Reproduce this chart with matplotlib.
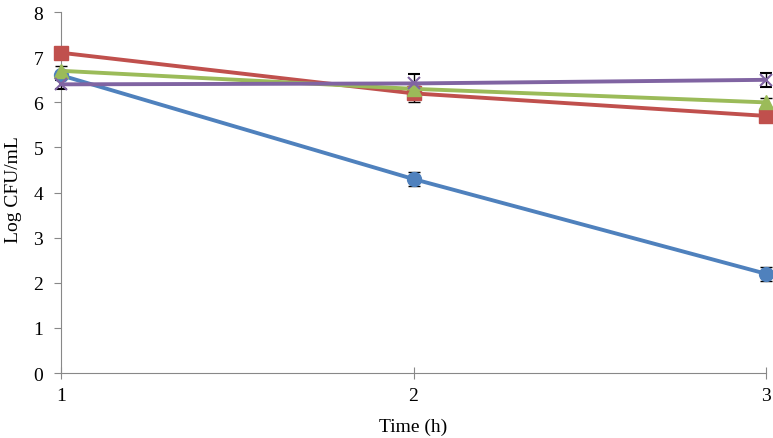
import matplotlib
matplotlib.use("Agg")
import matplotlib.pyplot as plt

time = [1, 2, 3]
blue = [6.6, 4.3, 2.2]
red = [7.1, 6.2, 5.7]
green = [6.7, 6.3, 6.0]
purple = [6.4, 6.42, 6.5]
blue_err = [0.05, 0.15, 0.15]
red_err = [0.1, 0.2, 0.1]
green_err = [0.1, 0.1, 0.1]
purple_err = [0.1, 0.22, 0.15]

plt.rcParams['font.family'] = ['Liberation Serif', 'DejaVu Serif']

fig = plt.figure(figsize=(7.73, 4.39), dpi=100)
ax = fig.add_axes([0.079, 0.148, 0.912, 0.822])

series = [
    (blue, blue_err, '#4F81BD', 'o', 10),
    (red, red_err, '#C0504D', 's', 10),
    (green, green_err, '#9BBB59', '^', 10),
    (purple, purple_err, '#8064A2', 'x', 9),
]
for vals, err, col, mk, ms in series:
    lines = ax.errorbar(time, vals, yerr=err, color=col, ecolor='black', elinewidth=1,
                        capsize=4, capthick=1.2, lw=2.8, marker=mk, markersize=ms,
                        markeredgewidth=1.5 if mk == 'x' else 1, markeredgecolor=col, zorder=3)
    for artist in lines.get_children():
        artist.set_clip_on(False)

ax.set_xlim(1, 3)
ax.set_ylim(0, 8)
ax.set_xticks([1, 2, 3])
ax.set_yticks(range(0, 9))
ax.set_xlabel('Time (h)', fontsize=14, labelpad=10)
ax.set_ylabel('Log CFU/mL', fontsize=14)
ax.yaxis.set_label_coords(-0.056, 0.51)
ax.tick_params(labelsize=14, color='#888888', length=5)
ax.tick_params(axis='y', pad=8)
ax.tick_params(axis='x', pad=6)
for s in ['top', 'right']:
    ax.spines[s].set_visible(False)
for s in ['left', 'bottom']:
    ax.spines[s].set_color('#888888')
ax.xaxis.set_tick_params(direction='inout', length=8)

fig.savefig('out.png', dpi=100)
